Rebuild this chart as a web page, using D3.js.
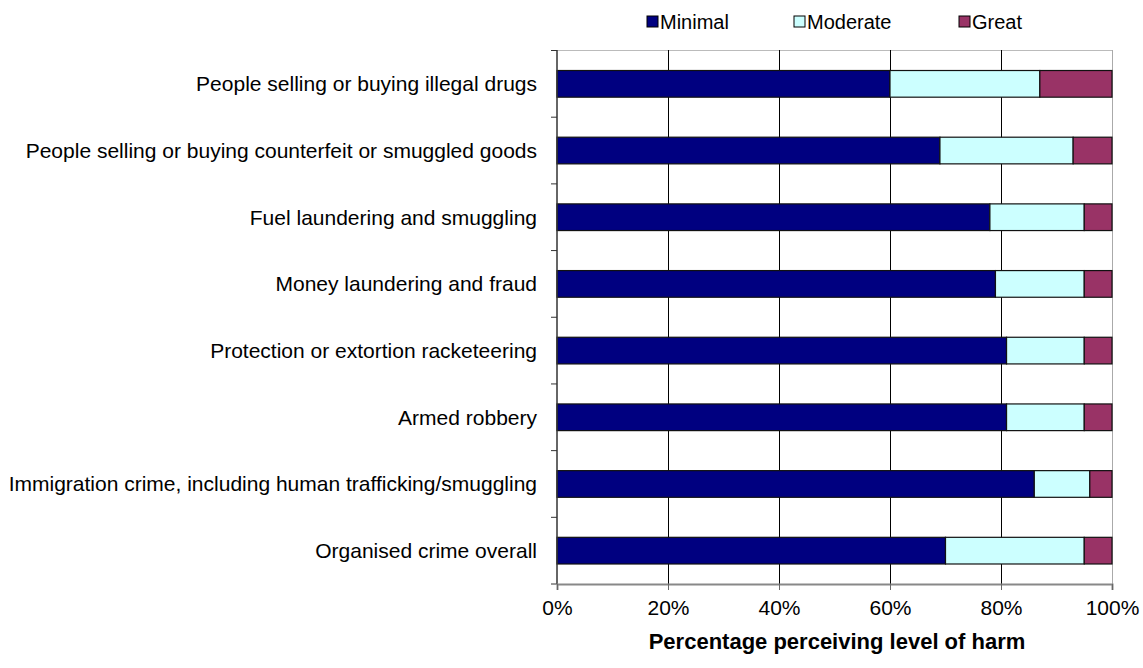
<!DOCTYPE html>
<html>
<head>
<meta charset="utf-8">
<script src="https://cdn.jsdelivr.net/npm/d3@7"></script>
<style>
  body { margin: 0; background: #fff; }
  text { font-family: "Liberation Sans", Arial, sans-serif; }
</style>
</head>
<body>
<svg id="chart"></svg>
<script>
// data, top to bottom
var categories = [
  "People selling or buying illegal drugs",
  "People selling or buying counterfeit or smuggled goods",
  "Fuel laundering and smuggling",
  "Money laundering and fraud",
  "Protection or extortion racketeering",
  "Armed robbery",
  "Immigration crime, including human trafficking/smuggling",
  "Organised crime overall"
];
var minimal  = [60, 69, 78, 79, 81, 81, 86, 70];
var moderate = [27, 24, 17, 16, 14, 14, 10, 25];
var great    = [13, 7, 5, 5, 5, 5, 4, 5];
var seriesNames = ["Minimal", "Moderate", "Great"];
var seriesColors = ["#000080", "#CCFFFF", "#993366"];
var xTicks = [0, 20, 40, 60, 80, 100];

var width = 1143, height = 668;
var plotTop = 50.5, plotBottom = 584, plotLeft = 557, plotRight = 1112;

var svg = d3.select("#chart").attr("width", width).attr("height", height);

var x = d3.scaleLinear().domain([0, 100]).range([plotLeft, plotRight]);
var y = d3.scaleBand().domain(categories).range([plotTop, plotBottom]).paddingInner(0.6).paddingOuter(0.3);

var rows = categories.map(function(c, i) {
  return {cat: c, Minimal: minimal[i], Moderate: moderate[i], Great: great[i]};
});
var stacked = d3.stack().keys(seriesNames)(rows);

// plot border (top/right light gray)
svg.append("line").attr("x1", x(0)).attr("x2", x(100)).attr("y1", plotTop).attr("y2", plotTop)
   .attr("stroke", "#bbb");
svg.append("line").attr("x1", x(100) + 0.5).attr("x2", x(100) + 0.5).attr("y1", 50).attr("y2", plotBottom)
   .attr("stroke", "#aaa");

// vertical gridlines
svg.append("g").selectAll("line")
   .data(xTicks.slice(1, -1))
   .enter().append("line")
   .attr("x1", function(d) { return Math.round(x(d)) + 0.5; })
   .attr("x2", function(d) { return Math.round(x(d)) + 0.5; })
   .attr("y1", 50).attr("y2", plotBottom)
   .attr("stroke", "#000").attr("stroke-width", 1);

// bars
svg.append("g").selectAll("g")
   .data(stacked)
   .enter().append("g")
   .attr("fill", function(d, i) { return seriesColors[i]; })
   .selectAll("rect")
   .data(function(d) { return d; })
   .enter().append("rect")
   .attr("x", function(d) { return x(d[0]); })
   .attr("y", function(d) { return y(d.data.cat); })
   .attr("width", function(d) { return x(d[1]) - x(d[0]); })
   .attr("height", y.bandwidth())
   .attr("stroke", "#111").attr("stroke-width", 1.2);

// y axis with ticks between categories
var yAxis = svg.append("g").attr("transform", "translate(" + x(0) + ",0)");
yAxis.append("line").attr("x1", 0).attr("x2", 0).attr("y1", 50).attr("y2", plotBottom)
     .attr("stroke", "#333").attr("stroke-width", 1.5);
var yTickPos = d3.range(categories.length + 1).map(function(i) {
  return plotTop + i * (plotBottom - plotTop) / categories.length;
});
yAxis.selectAll(".yt").data(yTickPos).enter().append("line")
     .attr("x1", -6).attr("x2", 0)
     .attr("y1", function(d) { return d; }).attr("y2", function(d) { return d; })
     .attr("stroke", "#333");
yAxis.selectAll(".yl").data(categories).enter().append("text")
     .attr("x", -20)
     .attr("y", function(d) { return y(d) + y.bandwidth() / 2; })
     .attr("dy", "0.35em")
     .attr("text-anchor", "end")
     .attr("font-size", 21)
     .attr("fill", "#000")
     .text(function(d) { return d; });

// x axis
var xAxis = svg.append("g").attr("transform", "translate(0," + plotBottom + ")")
   .call(d3.axisBottom(x).tickValues(xTicks).tickSize(6).tickPadding(10)
         .tickFormat(function(d) { return d + "%"; }));
xAxis.select(".domain").attr("stroke", "#888").attr("stroke-width", 2);
xAxis.selectAll(".tick line").attr("stroke", "#666");
xAxis.selectAll(".tick text").attr("font-size", 21).attr("fill", "#000")
     .attr("font-family", "Liberation Sans, Arial, sans-serif");

// axis title
svg.append("text")
   .attr("x", 837).attr("y", 649)
   .attr("text-anchor", "middle")
   .attr("font-size", 22).attr("font-weight", "bold")
   .text("Percentage perceiving level of harm");

// legend
var legendX = [647, 794, 959];
var legend = svg.append("g").selectAll("g")
   .data(seriesNames).enter().append("g")
   .attr("transform", function(d, i) { return "translate(" + legendX[i] + ",16)"; });
legend.append("rect").attr("width", 11).attr("height", 11)
   .attr("fill", function(d, i) { return seriesColors[i]; })
   .attr("stroke", "#000");
legend.append("text").attr("x", 13).attr("y", 6).attr("dy", "0.35em")
   .attr("font-size", 20).text(function(d) { return d; });
</script>
</body>
</html>
